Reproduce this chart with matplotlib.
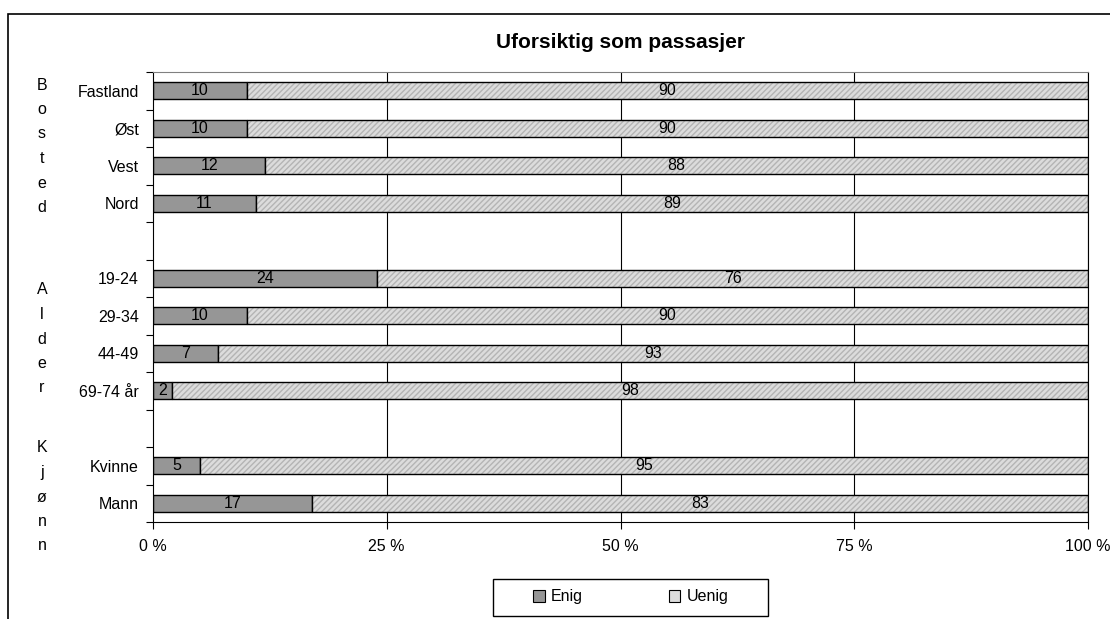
import numpy as np
import matplotlib
matplotlib.use("Agg")
import matplotlib.pyplot as plt
from matplotlib.patches import Rectangle, Patch

plt.rcParams['font.family'] = ['Liberation Sans', 'DejaVu Sans']

# rows from top to bottom, empty strings are the spacer rows between groups
categories = ['Fastland', 'Øst', 'Vest', 'Nord', '',
              '19-24', '29-34', '44-49', '69-74 år', '',
              'Kvinne', 'Mann']
enig = [10, 10, 12, 11, None, 24, 10, 7, 2, None, 5, 17]
uenig = [90, 90, 88, 89, None, 76, 90, 93, 98, None, 95, 83]
groups = ['Bosted', 'Alder', 'Kjønn']
group_tops = [85, 290, 448]          # pixel y of first letter
x_ticks = [0, 25, 50, 75, 100]
x_ticklabels = ['0 %', '25 %', '50 %', '75 %', '100 %']

W, H = 1110, 619
fig = plt.figure(figsize=(W / 100, H / 100), dpi=100)
ax = fig.add_axes([153 / W, 1 - 522 / H, 935 / W, 450 / H])

dark = '#969696'
light = '#dcdcdc'
bh = 0.46
fs = 11.5

rows = [i for i, c in enumerate(categories) if c]
e_vals = np.array([enig[i] for i in rows], dtype=float)
u_vals = np.array([uenig[i] for i in rows], dtype=float)
y = np.array(rows)

for xv in x_ticks[1:]:
    ax.axvline(xv, color='black', lw=0.8, zorder=0)

ax.barh(y, e_vals, height=bh, color=dark, edgecolor='black', lw=1.0, zorder=2)
# light part: fill, fine hatch, then outline
ax.barh(y, u_vals, left=e_vals, height=bh, color=light, lw=0, zorder=2)
ax.barh(y, u_vals, left=e_vals, height=bh, color='none', edgecolor='#b4b4b4',
        hatch='//////', lw=0, zorder=3)
ax.barh(y, u_vals, left=e_vals, height=bh, fill=False, edgecolor='black', lw=1.0, zorder=4)

for yi, e, u in zip(y, e_vals, u_vals):
    ax.text(e / 2, yi, f'{e:g}', ha='center', va='center', fontsize=fs, zorder=5)
    ax.text(e + u / 2, yi, f'{u:g}', ha='center', va='center', fontsize=fs, zorder=5)

ax.set_xlim(0, 100)
ax.set_ylim(len(categories) - 0.5, -0.5)

ax.set_yticks(np.arange(-0.5, len(categories), 1))
ax.set_yticklabels([])
ax.tick_params(axis='y', which='major', length=5, width=0.8, direction='out')
ax.set_yticks(rows, minor=True)
ax.set_yticklabels([categories[i] for i in rows], minor=True, fontsize=fs)
ax.tick_params(axis='y', which='minor', length=0, pad=10)

ax.set_xticks(x_ticks)
ax.set_xticklabels(x_ticklabels, fontsize=fs)
ax.tick_params(axis='x', length=5, width=0.8, direction='out', pad=7)

for s in ['left', 'bottom', 'right']:
    ax.spines[s].set_color('black')
    ax.spines[s].set_linewidth(0.8)
ax.spines['top'].set_color('#808080')
ax.spines['top'].set_linewidth(0.8)

fig.text(620 / W, 1 - 43 / H, 'Uforsiktig som passasjer', ha='center', va='center',
         fontsize=15, fontweight='bold')

# group names written as vertical letter columns
step = 24.5
for name, top in zip(groups, group_tops):
    for k, ch in enumerate(name):
        fig.text(42 / W, 1 - (top + k * step) / H, ch, ha='center', va='center', fontsize=fs)

# outer chart frame
fig.add_artist(Rectangle((8 / W, -0.1), 1.2, 1 - 14 / H + 0.1, transform=fig.transFigure,
                         fill=False, edgecolor='black', lw=1.2))

# legend box
fig.add_artist(Rectangle((493 / W, 1 - 616 / H), 275 / W, 37 / H, transform=fig.transFigure,
                         fill=False, edgecolor='black', lw=1.0))
handles = [Patch(facecolor=dark, edgecolor='black', lw=0.8),
           Patch(facecolor=light, edgecolor='black', lw=0.8)]
fig.legend(handles, ['Enig', 'Uenig'], loc='center', bbox_to_anchor=(631 / W, 1 - 597 / H),
           ncol=2, frameon=False, fontsize=fs, handlelength=0.7, handleheight=0.7,
           handletextpad=0.4, columnspacing=5.4)

fig.savefig('out.png', dpi=100)
